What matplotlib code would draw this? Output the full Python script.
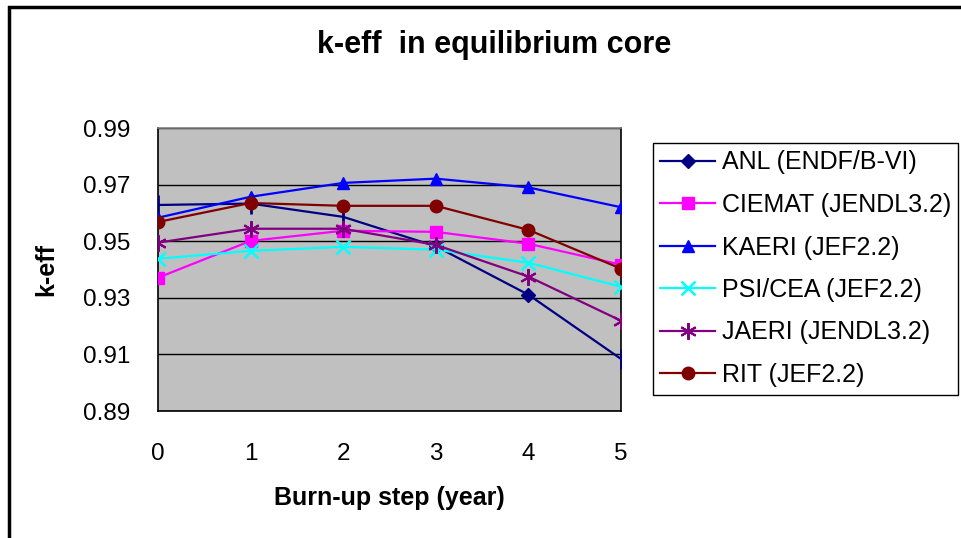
import matplotlib
matplotlib.use("Agg")
import matplotlib.pyplot as plt
from matplotlib.patches import Rectangle

plt.rcParams["font.family"] = ["Liberation Sans", "DejaVu Sans"]

# burn-up steps (year) and k-eff by participant
steps = [0, 1, 2, 3, 4, 5]
anl = [0.9628, 0.9633, 0.9586, 0.9482, 0.9311, 0.9084]
ciemat = [0.9371, 0.9501, 0.9537, 0.9533, 0.9491, 0.9417]
kaeri = [0.9583, 0.9657, 0.9706, 0.9721, 0.9690, 0.9620]
psicea = [0.9438, 0.9466, 0.9480, 0.9470, 0.9424, 0.9339]
jaeri = [0.9495, 0.9544, 0.9544, 0.9487, 0.9375, 0.9219]
rit = [0.9568, 0.9635, 0.9625, 0.9625, 0.9540, 0.9403]

labels = ["ANL (ENDF/B-VI)", "CIEMAT (JENDL3.2)", "KAERI (JEF2.2)",
          "PSI/CEA (JEF2.2)", "JAERI (JENDL3.2)", "RIT (JEF2.2)"]
yticks = [0.89, 0.91, 0.93, 0.95, 0.97, 0.99]

W, H = 962, 538
fig = plt.figure(figsize=(W / 100, H / 100), dpi=100)
ax = fig.add_axes([158 / W, 1 - 411 / H, (621 - 158) / W, (411 - 128) / H])
ax.set_facecolor("#C0C0C0")

lw = 1.6
ax.plot(steps, anl, color="#000080", lw=lw, marker="D", ms=7, markevery=[3, 4],
        label=labels[0], zorder=3)
ax.plot(steps, anl, color="#000080", lw=0, marker="|", ms=14, mew=2,
        markevery=[0, 1, 2, 5], zorder=3)
ax.plot(steps, ciemat, color="#FF00FF", lw=lw, marker="s", ms=8, label=labels[1], zorder=3)
ax.plot(steps, kaeri, color="#0000FF", lw=lw, marker="^", ms=9, label=labels[2], zorder=3)
ax.plot(steps, psicea, color="#00FFFF", lw=lw, marker="x", ms=10, mew=1.8,
        label=labels[3], zorder=3)
ax.plot(steps, jaeri, color="#800080", lw=lw, marker=(6, 2, 0), ms=12, mew=1.5,
        label=labels[4], zorder=3)
ax.plot(steps, rit, color="#800000", lw=lw, marker="o", ms=9, label=labels[5], zorder=3)

ax.set_xlim(0, 5)
ax.set_ylim(0.89, 0.99)
ax.set_xticks(steps)
ax.set_yticks(yticks)
ax.set_yticklabels([f"{v:.2f}" for v in yticks])
ax.tick_params(length=0, labelsize=17.5)
ax.tick_params(axis="y", pad=20)
ax.tick_params(axis="x", pad=23)
ax.yaxis.grid(True, color="black", lw=1)
ax.set_axisbelow(True)
for s in ax.spines.values():
    s.set_color("black")
    s.set_linewidth(1.2)
ax.spines["top"].set_color("#808080")

ax.set_xlabel("Burn-up step (year)", fontsize=18, fontweight="bold", labelpad=15)
ax.set_ylabel("k-eff", fontsize=18, fontweight="bold", labelpad=18)
fig.text(494 / W, 1 - 45 / H, "k-eff  in equilibrium core", fontsize=22,
         fontweight="bold", ha="center", va="center")

leg = fig.legend(loc="upper left", bbox_to_anchor=(653 / W, 1 - 143 / H),
                 bbox_transform=fig.transFigure, borderaxespad=0, fontsize=18,
                 frameon=True, fancybox=False, edgecolor="black", framealpha=1,
                 handlelength=2.2, handletextpad=0.25, labelspacing=0.74,
                 borderpad=0.3)
leg.get_frame().set_linewidth(1)

# chart-area border
fig.patches.append(Rectangle((9 / W, -0.1), 1.2, 1 - 7 / H + 0.1, transform=fig.transFigure,
                             fill=False, edgecolor="black", lw=2.5, zorder=0))

fig.savefig("out.png", dpi=100)
